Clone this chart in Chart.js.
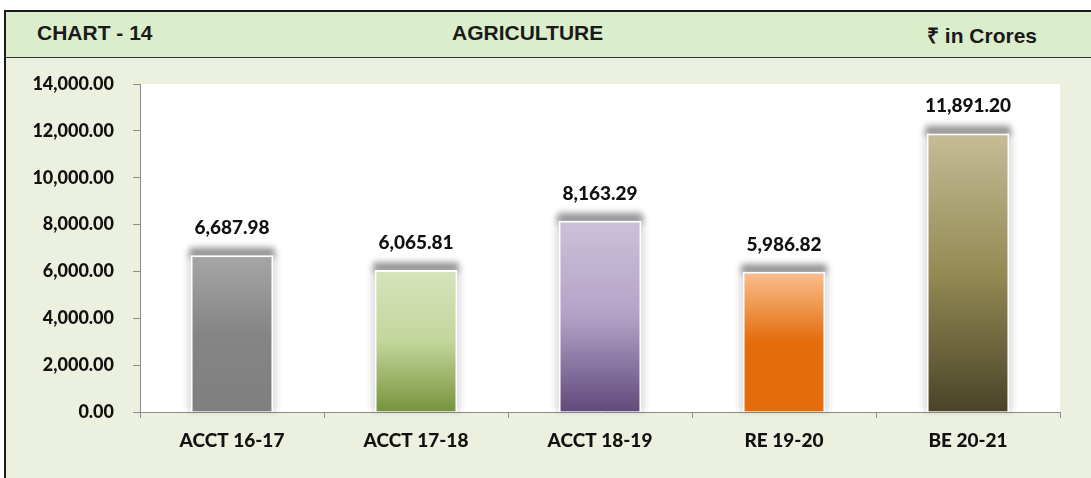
<!DOCTYPE html>
<html>
<head>
<meta charset="utf-8">
<script src="https://cdn.jsdelivr.net/npm/chart.js@4.4.1/dist/chart.umd.min.js"></script>
<style>
  html, body { margin: 0; padding: 0; background: #fff; width: 1091px; height: 478px; overflow: hidden; }
  .frame {
    position: absolute; left: 4px; top: 10px; width: 1087px; height: 468px;
    border-left: 2px solid #1a1a1a; border-top: 2px solid #1a1a1a;
    background: #ebf1de; box-sizing: border-box;
  }
  .header {
    position: absolute; left: 0; top: 0; right: 0; height: 45px;
    background: #dbeecb; border-bottom: 1px solid #333;
    font-family: "Liberation Sans", Arial, sans-serif;
    font-weight: bold; font-size: 21px; color: #1a1a1a;
  }
  .header span { position: absolute; top: 9px; white-space: nowrap; }
  .h-left { left: 31px; }
  .h-mid { left: 446px; }
  .h-right { right: 54px; }
  #chart { position: absolute; left: 0; top: 0; }
</style>
</head>
<body>
<div class="frame">
  <div class="header">
    <span class="h-left">CHART - 14</span>
    <span class="h-mid">AGRICULTURE</span>
    <span class="h-right">₹ in Crores</span>
  </div>
</div>
<canvas id="chart" width="1091" height="478"></canvas>
<script>
const categories = ['ACCT 16-17', 'ACCT 17-18', 'ACCT 18-19', 'RE 19-20', 'BE 20-21'];
const values = [6687.98, 6065.81, 8163.29, 5986.82, 11891.20];
const yTicks = [0, 2000, 4000, 6000, 8000, 10000, 12000, 14000];

// gradient stops per bar, top -> bottom
const barGradients = [
  ['#a6a6a6', '#858585', '#7f7f7f'],
  ['#d7e4bd', '#c3d69b', '#77933c'],
  ['#ccc1da', '#b3a2c7', '#604a7b'],
  ['#fac090', '#e46c0a', '#e46c0a'],
  ['#c4bd97', '#948a54', '#494429']
];

const labelFont = 'Lato, "Open Sans", sans-serif';

const fmt = v => v.toLocaleString('en-US', { minimumFractionDigits: 2, maximumFractionDigits: 2 });

const plotBackground = {
  id: 'plotBackground',
  beforeDraw(chart) {
    const { ctx, chartArea } = chart;
    ctx.save();
    ctx.fillStyle = '#ffffff';
    ctx.fillRect(chartArea.left, chartArea.top, chartArea.right - chartArea.left, chartArea.bottom - chartArea.top);
    ctx.restore();
  }
};

// blurred grey band behind the top of each bar, plus a faint halo on the sides
const barShadow = {
  id: 'barShadow',
  beforeDatasetsDraw(chart) {
    const ctx = chart.ctx;
    const meta = chart.getDatasetMeta(0);
    ctx.save();
    ctx.filter = 'blur(3px)';
    meta.data.forEach(bar => {
      const w = bar.width;
      ctx.fillStyle = 'rgba(0,0,0,0.14)';
      ctx.fillRect(bar.x - w / 2 - 3, bar.y - 4, w + 6, bar.base - bar.y + 4);
      ctx.fillStyle = 'rgba(0,0,0,0.36)';
      ctx.fillRect(bar.x - w / 2 - 1, bar.y - 8, w + 2, 10);
    });
    ctx.restore();
  }
};

const valueLabels = {
  id: 'valueLabels',
  afterDatasetsDraw(chart) {
    const { ctx } = chart;
    const meta = chart.getDatasetMeta(0);
    ctx.save();
    ctx.font = '900 19px ' + labelFont;
    ctx.fillStyle = '#111';
    ctx.textAlign = 'center';
    ctx.textBaseline = 'alphabetic';
    meta.data.forEach((bar, i) => {
      ctx.fillText(fmt(values[i]), bar.x, bar.y - 21);
    });
    ctx.restore();
  }
};

new Chart(document.getElementById('chart'), {
  type: 'bar',
  data: {
    labels: categories,
    datasets: [{
      data: values,
      backgroundColor: function(context) {
        const chart = context.chart;
        if (!chart.chartArea || !chart.scales.y) return barGradients[context.dataIndex][2];
        const y = chart.scales.y;
        const top = y.getPixelForValue(values[context.dataIndex]);
        const bottom = y.getPixelForValue(0);
        const stops = barGradients[context.dataIndex];
        const g = chart.ctx.createLinearGradient(0, top, 0, bottom);
        g.addColorStop(0, stops[0]);
        g.addColorStop(0.5, stops[1]);
        g.addColorStop(1, stops[2]);
        return g;
      },
      borderColor: '#ffffff',
      borderWidth: 2,
      borderSkipped: 'bottom',
      barPercentage: 0.45,
      categoryPercentage: 1
    }]
  },
  options: {
    responsive: false,
    animation: false,
    events: [],
    layout: {
      padding: { left: 0, top: 84, right: 31, bottom: 0 }
    },
    scales: {
      x: {
        afterFit(scale) { scale.height = 66; },
        grid: {
          offset: true,
          drawOnChartArea: false,
          drawTicks: true,
          tickLength: 6,
          color: '#8c8c8c'
        },
        border: { color: '#8c8c8c', width: 1 },
        ticks: {
          padding: 11,
          color: '#111',
          font: { family: labelFont, weight: 900, size: 19 }
        }
      },
      y: {
        min: 0,
        max: 14000,
        afterFit(scale) { scale.width = 140; },
        afterBuildTicks(scale) { scale.ticks = yTicks.map(v => ({ value: v })); },
        grid: {
          drawOnChartArea: false,
          drawTicks: true,
          tickLength: 7,
          color: '#8c8c8c'
        },
        border: { color: '#8c8c8c', width: 1 },
        ticks: {
          padding: 19,
          color: '#111',
          font: { family: labelFont, weight: 900, size: 18 },
          callback: v => fmt(v)
        }
      }
    },
    plugins: {
      legend: { display: false },
      tooltip: { enabled: false }
    }
  },
  plugins: [plotBackground, barShadow, valueLabels]
});
</script>
</body>
</html>
